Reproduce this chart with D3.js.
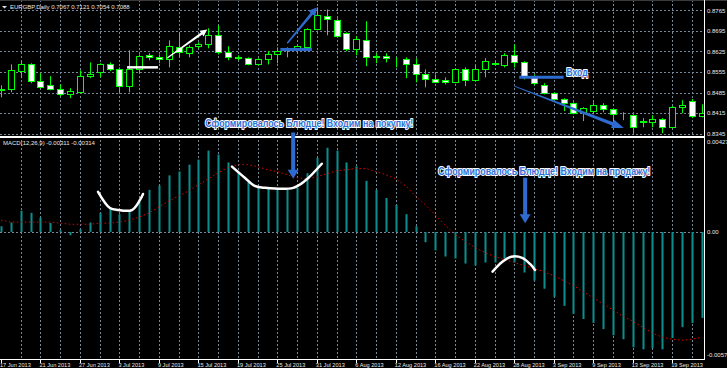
<!DOCTYPE html>
<meta charset="utf-8">
<style>
body { margin: 0; background: #000; }
svg { display: block; }
.lbl { font: 6px "Liberation Sans", Arial, sans-serif; fill: #e8e8e8; }
.note { font: bold 10px "Liberation Sans Narrow", "Liberation Sans", sans-serif; fill: #2f6fd8;
        stroke: #fff; stroke-width: 2px; paint-order: stroke; stroke-linejoin: round; }
</style>
<body>
<script src="https://cdn.jsdelivr.net/npm/d3@7"></script>
<script>

// daily EURGBP bars, 17 Jun 2013 .. 24 Sep 2013
var open  = [.8493,.8496,.8558,.8581,.8524,.8510,.8496,.8479,.8486,.8541,
             .8554,.8581,.8564,.8507,.8564,.8612,.8605,.8598,.8639,.8619,
             .8643,.8649,.8680,.8622,.8602,.8602,.8581,.8598,.8615,.8629,
             .8632,.8639,.8700,.8745,.8734,.8687,.8632,.8663,.8609,.8609,
             .8598,.8598,.8581,.8547,.8530,.8527,.8520,.8564,.8527,.8564,
             .8581,.8578,.8612,.8588,.8537,.8510,.8483,.8463,.8449,.8418,
             .8422,.8442,.8428,.8411,.8408,.8384,.8384,.8394,.8367,.8435,
             .8456,.8405];
var high  = [.8510,.8581,.8592,.8585,.8551,.8541,.8513,.8500,.8561,.8588,
             .8585,.8588,.8571,.8629,.8615,.8619,.8615,.8663,.8690,.8646,
             .8656,.8704,.8714,.8643,.8612,.8605,.8602,.8626,.8639,.8639,
             .8646,.8704,.8775,.8768,.8738,.8690,.8677,.8728,.8619,.8619,
             .8605,.8605,.8602,.8564,.8547,.8537,.8568,.8571,.8578,.8602,
             .8592,.8619,.8649,.8592,.8547,.8517,.8486,.8466,.8452,.8435,
             .8452,.8449,.8432,.8418,.8411,.8398,.8408,.8398,.8439,.8459,
             .8463,.8445];
var low   = [.8469,.8486,.8534,.8517,.8500,.8493,.8473,.8466,.8483,.8534,
             .8537,.8558,.8486,.8486,.8554,.8595,.8585,.8571,.8605,.8605,
             .8636,.8636,.8615,.8595,.8595,.8578,.8578,.8581,.8585,.8605,
             .8629,.8629,.8697,.8680,.8677,.8626,.8612,.8575,.8585,.8588,
             .8571,.8534,.8520,.8503,.8520,.8513,.8517,.8507,.8524,.8537,
             .8578,.8571,.8571,.8530,.8510,.8479,.8459,.8422,.8411,.8388,
             .8411,.8418,.8384,.8391,.8347,.8367,.8367,.8347,.8364,.8415,
             .8398,.8401];
var close = [.8496,.8561,.8581,.8524,.8503,.8496,.8479,.8490,.8541,.8547,
             .8581,.8564,.8507,.8564,.8609,.8605,.8598,.8643,.8622,.8639,
             .8649,.8680,.8622,.8605,.8605,.8581,.8598,.8615,.8626,.8636,
             .8643,.8700,.8748,.8734,.8680,.8632,.8666,.8605,.8607,.8602,
             .8597,.8581,.8547,.8530,.8521,.8520,.8564,.8527,.8564,.8592,
             .8585,.8612,.8588,.8541,.8517,.8483,.8463,.8449,.8415,.8432,
             .8442,.8428,.8411,.8410,.8367,.8388,.8394,.8367,.8435,.8442,
             .8405,.8415];

// MACD(12,26,9): main line (histogram) and signal
var macd = [.00026,.00043,.00097,.00087,.00066,.00041,.00008,-.00015,.00012,.00043,
            .00087,.00108,.00081,.00092,.00141,.00192,.00212,.00258,.00276,.00307,
            .00330,.00371,.00353,.00317,.00276,.00230,.00207,.00196,.00192,.00192,
            .00202,.00268,.00338,.00384,.00371,.00317,.00299,.00233,.00192,.00155,
            .00123,.00081,.00026,-.00047,-.00084,-.00112,-.00121,-.00144,-.00153,-.00139,
            -.00139,-.00121,-.00139,-.00185,-.00222,-.00259,-.00296,-.00337,-.00374,-.00397,
            -.00415,-.00443,-.00471,-.00489,-.00526,-.00535,-.00531,-.00535,-.00484,-.00434,
            -.00415,-.00392];
var signal = [.00054,.00045,.00045,.00045,.00045,.00045,.00040,.00035,.00035,.00035,
              .00040,.00040,.00045,.00054,.00068,.00086,.00114,.00141,.00164,.00187,
              .00215,.00242,.00270,.00293,.00307,.00307,.00298,.00284,.00275,.00261,
              .00247,.00242,.00252,.00265,.00279,.00284,.00289,.00289,.00275,.00261,
              .00242,.00210,.00164,.00123,.00077,.00031,-.00011,-.00043,-.00070,-.00093,
              -.00112,-.00126,-.00139,-.00153,-.00167,-.00181,-.00199,-.00222,-.00245,-.00273,
              -.00300,-.00328,-.00356,-.00384,-.00407,-.00434,-.00461,-.00480,-.00489,-.00494,
              -.00489,-.00480];

var priceTicks = [0.8345, 0.8415, 0.8485, 0.8555, 0.8625, 0.8695, 0.8765];
var macdTicks = [0.00427, 0, -0.00577];
var macdTickLabels = ["0.00427", "0.00", "-0.00577"];
var dateLabels = ["17 Jun 2013","21 Jun 2013","27 Jun 2013","3 Jul 2013","9 Jul 2013","15 Jul 2013",
                  "19 Jul 2013","25 Jul 2013","31 Jul 2013","6 Aug 2013","12 Aug 2013","16 Aug 2013",
                  "22 Aug 2013","28 Aug 2013","3 Sep 2013","9 Sep 2013","13 Sep 2013","19 Sep 2013"];

var width = 727, height = 368,
    axisX = 704, sepY = 136, bottomY = 359;

var x = d3.scaleLinear().domain([0, open.length - 1]).range([1, 701.8]);
var y = d3.scaleLinear().domain([0.8345, 0.8765]).range([133.7, 10.4]);
var m = d3.scaleLinear().domain([-0.00577, 0.00427]).range([358.5, 138.3]);

var svg = d3.select("body").append("svg")
    .attr("width", width)
    .attr("height", height)
    .style("background", "#000");

svg.append("clipPath").attr("id", "clip")
  .append("rect").attr("x", 0).attr("y", 0).attr("width", axisX).attr("height", bottomY);

var plot = svg.append("g").attr("clip-path", "url(#clip)");
var px = function(i) { return Math.round(x(i)) + 0.5; };

// grid
var grid = "#778899";
var vgrid = d3.range(2, open.length, 2);
plot.selectAll("line.vg").data(vgrid).join("line")
    .attr("x1", px).attr("x2", px)
    .attr("y1", 0).attr("y2", bottomY)
    .attr("stroke", grid).attr("stroke-dasharray", "2,2");
plot.selectAll("line.hg").data(priceTicks).join("line")
    .attr("x1", 0).attr("x2", axisX)
    .attr("y1", function(d) { return Math.round(y(d)) + 0.5; })
    .attr("y2", function(d) { return Math.round(y(d)) + 0.5; })
    .attr("stroke", grid).attr("stroke-dasharray", "2,2");
plot.append("line")
    .attr("x1", 0).attr("x2", axisX)
    .attr("y1", Math.round(m(0)) + 0.5).attr("y2", Math.round(m(0)) + 0.5)
    .attr("stroke", grid).attr("stroke-dasharray", "2,2");

// candles
var idx = d3.range(open.length);
var candle = plot.selectAll("g.candle").data(idx).join("g");
candle.append("line")
    .attr("x1", px).attr("x2", px)
    .attr("y1", function(i) { return y(high[i]); })
    .attr("y2", function(i) { return y(low[i]); })
    .attr("stroke", "#00ff00");
candle.append("rect")
    .attr("x", function(i) { return Math.round(x(i)) - 2.5; })
    .attr("width", 6)
    .attr("y", function(i) { return Math.round(y(Math.max(open[i], close[i]))) + 0.5; })
    .attr("height", function(i) { return Math.max(0, Math.round(Math.abs(y(open[i]) - y(close[i])))); })
    .attr("fill", function(i) { return close[i] >= open[i] ? "#000" : "#fff"; })
    .attr("stroke", "#00ff00");

// MACD histogram + signal
plot.selectAll("rect.bar").data(idx).join("rect")
    .attr("x", function(i) { return Math.round(x(i)) - 0.5; })
    .attr("width", 2)
    .attr("y", function(i) { return Math.min(m(0), m(macd[i])); })
    .attr("height", function(i) { return Math.abs(m(macd[i]) - m(0)); })
    .attr("fill", "#0a8f8f");
plot.append("path")
    .datum(idx)
    .attr("fill", "none")
    .attr("stroke", "#e00000")
    .attr("stroke-dasharray", "1.5,2.5")
    .attr("d", d3.line().x(function(i) { return x(i); }).y(function(i) { return m(signal[i]); }));

// frame
svg.append("rect").attr("x", 0).attr("y", 0).attr("width", width).attr("height", 1).attr("fill", "#3a3a3a");
svg.append("rect").attr("x", 0).attr("y", sepY).attr("width", axisX + 1).attr("height", 2).attr("fill", "#fff");
svg.append("line").attr("x1", axisX + 0.5).attr("x2", axisX + 0.5).attr("y1", 0).attr("y2", bottomY + 1)
    .attr("stroke", "#fff");
svg.append("line").attr("x1", 0).attr("x2", axisX + 1).attr("y1", bottomY + 0.5).attr("y2", bottomY + 0.5)
    .attr("stroke", "#fff");

// right axis labels
svg.selectAll("text.p").data(priceTicks).join("text")
    .attr("class", "lbl")
    .attr("x", 707).attr("y", function(d) { return y(d) + 2.2; })
    .text(function(d) { return d.toFixed(4); });
svg.selectAll("text.m").data(macdTicks).join("text")
    .attr("class", "lbl")
    .attr("x", 707)
    .attr("y", function(d, i) { return m(d) + [5.5, 2.2, -1.5][i]; })
    .text(function(d, i) { return macdTickLabels[i]; });

// date axis
var dateIdx = dateLabels.map(function(d, k) { return k * 4; });
svg.selectAll("line.dt").data(dateIdx).join("line")
    .attr("x1", px).attr("x2", px)
    .attr("y1", bottomY).attr("y2", bottomY + 4)
    .attr("stroke", "#fff");
svg.selectAll("text.d").data(dateIdx).join("text")
    .attr("class", "lbl")
    .style("font-size", "5.6px")
    .attr("x", function(i) { return x(i) - 1; })
    .attr("y", 366.5)
    .text(function(i, k) { return dateLabels[k]; });

// panel titles
svg.append("path").attr("d", "M2,6L7,6L4.5,8.5Z").attr("fill", "#ddd");
svg.append("text").attr("class", "lbl").attr("x", 10).attr("y", 9.3)
    .text("EURGBP,Daily  0.7067 0.7121 0.7054 0.7088");
svg.append("text").attr("class", "lbl").attr("x", 3).attr("y", 145.3)
    .text("MACD(12,26,9) -0.00311 -0.00314");

// drawn annotations, in bar / value coordinates
var ann = svg.append("g");
function arrow(p1, p2, w0, w1, headLen, headW, fill) {
  var dx = p2[0] - p1[0], dy = p2[1] - p1[1], L = Math.sqrt(dx * dx + dy * dy);
  var ux = dx / L, uy = dy / L, nx = -uy, ny = ux;
  var bx = p2[0] - ux * headLen, by = p2[1] - uy * headLen;
  var pts = [
    [p1[0] + nx * w0 / 2, p1[1] + ny * w0 / 2],
    [bx + nx * w1 / 2, by + ny * w1 / 2],
    [bx + nx * headW / 2, by + ny * headW / 2],
    p2,
    [bx - nx * headW / 2, by - ny * headW / 2],
    [bx - nx * w1 / 2, by - ny * w1 / 2],
    [p1[0] - nx * w0 / 2, p1[1] - ny * w0 / 2]
  ];
  ann.append("path").attr("d", "M" + pts.join("L") + "Z").attr("fill", fill);
}
var blue = "#2d6bd0";

// price panel marks
ann.append("line").attr("x1", x(12.77)).attr("x2", x(15.9)).attr("y1", y(0.8571)).attr("y2", y(0.8571))
    .attr("stroke", "#fff").attr("stroke-width", 2.5);
arrow([x(16.8), y(0.8602)], [x(20.9), y(0.8700)], 1, 2.5, 7, 7, "#fff");
ann.append("line").attr("x1", x(28.3)).attr("x2", x(31.5)).attr("y1", y(0.8632)).attr("y2", y(0.8632))
    .attr("stroke", blue).attr("stroke-width", 3);
arrow([x(29.0), y(0.8653)], [x(32.0), y(0.8775)], 1.5, 3, 8, 9, blue);
ann.append("line").attr("x1", x(52.5)).attr("x2", x(57.0)).attr("y1", y(0.8537)).attr("y2", y(0.8537))
    .attr("stroke", blue).attr("stroke-width", 3);
arrow([x(52.0), y(0.8507)], [x(63.1), y(0.8364)], 1, 3.5, 12, 9, blue);
ann.append("text").attr("class", "note").attr("x", x(57.3)).attr("y", y(0.8554) + 3.5)
    .attr("textLength", 21).attr("lengthAdjust", "spacingAndGlyphs").text("Вход");

// MACD panel marks
ann.append("text").attr("class", "note").attr("x", x(20.7)).attr("y", y(0.8381) + 3.5)
    .attr("textLength", 208).attr("lengthAdjust", "spacingAndGlyphs")
    .text("Сформировалось Блюдце! Входим на покупку!");
arrow([x(29.6), m(0.00454)], [x(29.6), m(0.00242)], 4, 4, 9, 11, blue);
ann.append("text").attr("class", "note").attr("x", x(44.3)).attr("y", m(0.00275) + 3.5)
    .attr("textLength", 212).attr("lengthAdjust", "spacingAndGlyphs")
    .text("Сформировалось Блюдце! Входим на продажу!");
arrow([x(53.1), m(0.00247)], [x(53.1), m(0.00040)], 4, 4, 9, 11, blue);

var curveA = [[9.83,.00183],[11.04,.00109],[11.85,.00100],[13.27,.00100],[14.08,.00146],[14.39,.00173]];
var curveB = [[23.4,.00298],[24.7,.00247],[25.7,.00210],[26.75,.00201],[29.6,.00201],[30.8,.00233],[32.5,.00311]];
var curveC = [[49.8,-.00181],[50.8,-.00136],[51.7,-.00113],[52.8,-.00118],[53.6,-.00146],[54.1,-.00173]];
var sketch = d3.line().x(function(d) { return x(d[0]); }).y(function(d) { return m(d[1]); })
    .curve(d3.curveCatmullRom);
ann.selectAll("path.curve").data([curveA, curveB, curveC]).join("path")
    .attr("d", sketch)
    .attr("fill", "none")
    .attr("stroke", "#fff")
    .attr("stroke-width", 2.5)
    .attr("stroke-linecap", "round");

</script>
</body>
